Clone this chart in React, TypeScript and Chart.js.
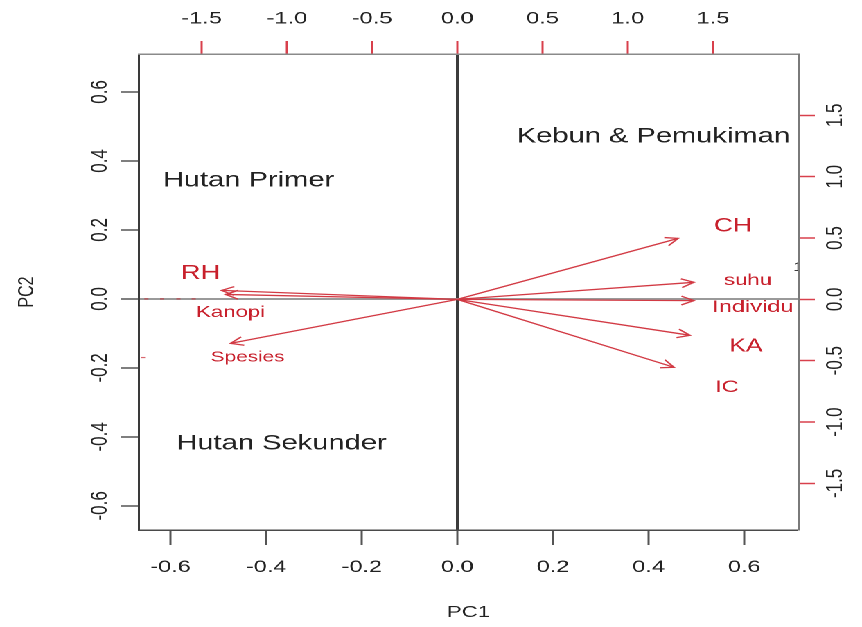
import React, { useEffect, useRef } from 'react';
import { Chart, registerables } from 'chart.js';

Chart.register(...registerables);

// ---- data ----
const VARIABLES = ['CH', 'suhu', 'Individu', 'KA', 'IC', 'RH', 'Kanopi', 'Spesies'];
const LOAD_PC1 = [1.295, 1.388, 1.388, 1.365, 1.271, -1.383, -1.36, -1.33];
const LOAD_PC2 = [0.497, 0.139, -0.01, -0.293, -0.554, 0.073, 0.04, -0.359];
const LABEL_PC1 = [1.617, 1.705, 1.734, 1.693, 1.582, -1.506, -1.33, -1.23];
const LABEL_PC2 = [0.595, 0.155, -0.065, -0.383, -0.717, 0.212, -0.106, -0.473];
const LABEL_SIZE = [19, 16, 17, 18, 17, 20, 16, 15];

const GROUPS = ['Kebun & Pemukiman', 'Hutan Primer', 'Hutan Sekunder'];
const GROUP_PC1 = [0.41, -0.437, -0.368];
const GROUP_PC2 = [0.47, 0.342, -0.42];

const SCORE_PC1 = [-0.655, -0.622, -0.588, -0.556, -0.662];
const SCORE_PC2 = [0.0, 0.0, 0.0, 0.0, -0.17];
const SCORE_LABELS = ['1'];
const SCORE_LABEL_PC1 = [0.712];
const SCORE_LABEL_PC2 = [0.09];

const PC_TICKS = [-0.6, -0.4, -0.2, 0, 0.2, 0.4, 0.6];
const LOADING_TICKS = [-1.5, -1.0, -0.5, 0, 0.5, 1.0, 1.5];

const FONT = '"Liberation Sans", Arial, Helvetica, sans-serif';
const ARROW_COLOR = '#d23a44';
const LABEL_COLOR = '#c8202c';
const TEXT_COLOR = '#222222';
const STRETCH = 862 / 622;

const biplotPlugin = {
  id: 'biplot',
  afterDatasetsDraw(chart: any) {
    const { ctx, scales, chartArea } = chart;
    const xs = scales.x2;
    const ys = scales.y2;
    const ox = xs.getPixelForValue(0);
    const oy = ys.getPixelForValue(0);
    ctx.save();
    ctx.strokeStyle = ARROW_COLOR;
    ctx.lineWidth = 1.3;
    VARIABLES.forEach((_, i) => {
      const tx = xs.getPixelForValue(LOAD_PC1[i]);
      const ty = ys.getPixelForValue(LOAD_PC2[i]);
      const ang = Math.atan2(ty - oy, tx - ox);
      const L = 10;
      const a = Math.PI / 7;
      ctx.beginPath();
      ctx.moveTo(tx - L * Math.cos(ang - a), ty - L * Math.sin(ang - a));
      ctx.lineTo(tx, ty);
      ctx.lineTo(tx - L * Math.cos(ang + a), ty - L * Math.sin(ang + a));
      ctx.stroke();
    });
    ctx.fillStyle = LABEL_COLOR;
    ctx.textAlign = 'center';
    ctx.textBaseline = 'middle';
    VARIABLES.forEach((name, i) => {
      ctx.font = `${LABEL_SIZE[i]}px ${FONT}`;
      ctx.fillText(name, xs.getPixelForValue(LABEL_PC1[i]), ys.getPixelForValue(LABEL_PC2[i]));
    });
    const px = scales.x;
    const py = scales.y;
    ctx.fillStyle = TEXT_COLOR;
    ctx.font = `21px ${FONT}`;
    GROUPS.forEach((g, i) => {
      ctx.fillText(g, px.getPixelForValue(GROUP_PC1[i]), py.getPixelForValue(GROUP_PC2[i]));
    });
    ctx.beginPath();
    ctx.rect(chartArea.left, chartArea.top, chartArea.right - chartArea.left, chartArea.bottom - chartArea.top);
    ctx.clip();
    ctx.font = `12px ${FONT}`;
    SCORE_LABELS.forEach((s, i) => {
      ctx.fillText(s, px.getPixelForValue(SCORE_LABEL_PC1[i]), py.getPixelForValue(SCORE_LABEL_PC2[i]));
    });
    ctx.restore();
  },
};

const fmt = (v: any) => Number(v).toFixed(1);

export default function App() {
  const ref = useRef<HTMLCanvasElement | null>(null);
  useEffect(() => {
    document.body.style.margin = '0';
    const canvas = ref.current;
    if (!canvas) return;
    const arrowSets = VARIABLES.map((name, i) => ({
      label: name,
      data: [
        { x: 0, y: 0 },
        { x: LOAD_PC1[i], y: LOAD_PC2[i] },
      ],
      xAxisID: 'x2',
      yAxisID: 'y2',
      showLine: true,
      borderColor: ARROW_COLOR,
      borderWidth: 1.3,
      pointRadius: 0,
    }));
    const scoreSet = {
      label: 'scores',
      data: SCORE_PC1.map((x, i) => ({ x, y: SCORE_PC2[i] })),
      xAxisID: 'x',
      yAxisID: 'y',
      showLine: false,
      pointStyle: 'dash',
      pointRadius: 3,
      borderColor: 'rgba(200,40,50,0.7)',
      borderWidth: 1.2,
    };
    const zeroGrid = (dark: string) => ({
      drawOnChartArea: true,
      color: (c: any) => (c.tick && c.tick.value === 0 ? dark : 'rgba(0,0,0,0)'),
      lineWidth: (c: any) => (c.tick && c.tick.value === 0 ? 2 : 0),
    });
    const tickFont = { family: FONT, size: 17 };
    const chart = new Chart(canvas, {
      type: 'scatter',
      data: { datasets: [scoreSet as any, ...arrowSets] },
      plugins: [biplotPlugin],
      options: {
        animation: false,
        responsive: false,
        devicePixelRatio: 2,
        layout: { padding: 0 },
        plugins: { legend: { display: false }, tooltip: { enabled: false } },
        scales: {
          x: {
            type: 'linear',
            position: 'bottom',
            min: -0.667,
            max: 0.713,
            afterBuildTicks: (s: any) => { s.ticks = PC_TICKS.map((v) => ({ value: v })); },
            afterFit: (s: any) => { s.height = 97; },
            grid: { ...zeroGrid('#3c3c3c'), tickLength: 15, tickColor: '#555', tickWidth: 1.5 },
            border: { display: true, color: '#4a4a4a', width: 1.5 },
            ticks: { color: TEXT_COLOR, font: tickFont, padding: 12, maxRotation: 0, autoSkip: false, callback: fmt },
            title: { display: true, text: 'PC1', color: TEXT_COLOR, font: { family: FONT, size: 16 }, padding: { top: 0, bottom: 5 } },
          },
          y: {
            type: 'linear',
            position: 'left',
            min: -0.67,
            max: 0.71,
            afterBuildTicks: (s: any) => { s.ticks = PC_TICKS.map((v) => ({ value: v })); },
            afterFit: (s: any) => { s.width = 100; },
            grid: { ...zeroGrid('#9a9a9a'), tickLength: 13, tickColor: '#555', tickWidth: 1.5 },
            border: { display: true, color: '#3a3a3a', width: 1.5 },
            ticks: { color: TEXT_COLOR, font: tickFont, padding: 0, minRotation: 90, maxRotation: 90, crossAlign: 'center', autoSkip: false, callback: fmt },
            title: { display: true, text: 'PC2', color: TEXT_COLOR, font: { family: FONT, size: 16 }, padding: { top: 10, bottom: 0 } },
          },
          x2: {
            type: 'linear',
            position: 'top',
            min: -1.87,
            max: 2.0,
            afterBuildTicks: (s: any) => { s.ticks = LOADING_TICKS.map((v) => ({ value: v })); },
            afterFit: (s: any) => { s.height = 54; },
            grid: { drawOnChartArea: false, tickLength: 13, tickColor: '#d8404c', tickWidth: 1.5 },
            border: { display: true, color: '#8a8a8a', width: 1.5 },
            ticks: { color: TEXT_COLOR, font: tickFont, padding: 12, maxRotation: 0, autoSkip: false, callback: fmt },
          },
          y2: {
            type: 'linear',
            position: 'right',
            min: -1.88,
            max: 2.0,
            afterBuildTicks: (s: any) => { s.ticks = LOADING_TICKS.map((v) => ({ value: v })); },
            afterFit: (s: any) => { s.width = 46; },
            grid: { drawOnChartArea: false, tickLength: 12, tickColor: '#d8404c', tickWidth: 1.5 },
            border: { display: true, color: '#7a7a7a', width: 1.5 },
            ticks: { color: TEXT_COLOR, font: tickFont, padding: 0, minRotation: 90, maxRotation: 90, crossAlign: 'center', autoSkip: false, callback: fmt },
          },
        },
      } as any,
    });
    return () => chart.destroy();
  }, []);
  return (
    <div style={{ width: 622, height: 627, transform: `scaleX(${STRETCH})`, transformOrigin: '0 0', background: '#fff' }}>
      <canvas ref={ref} width={622} height={627} />
    </div>
  );
}
